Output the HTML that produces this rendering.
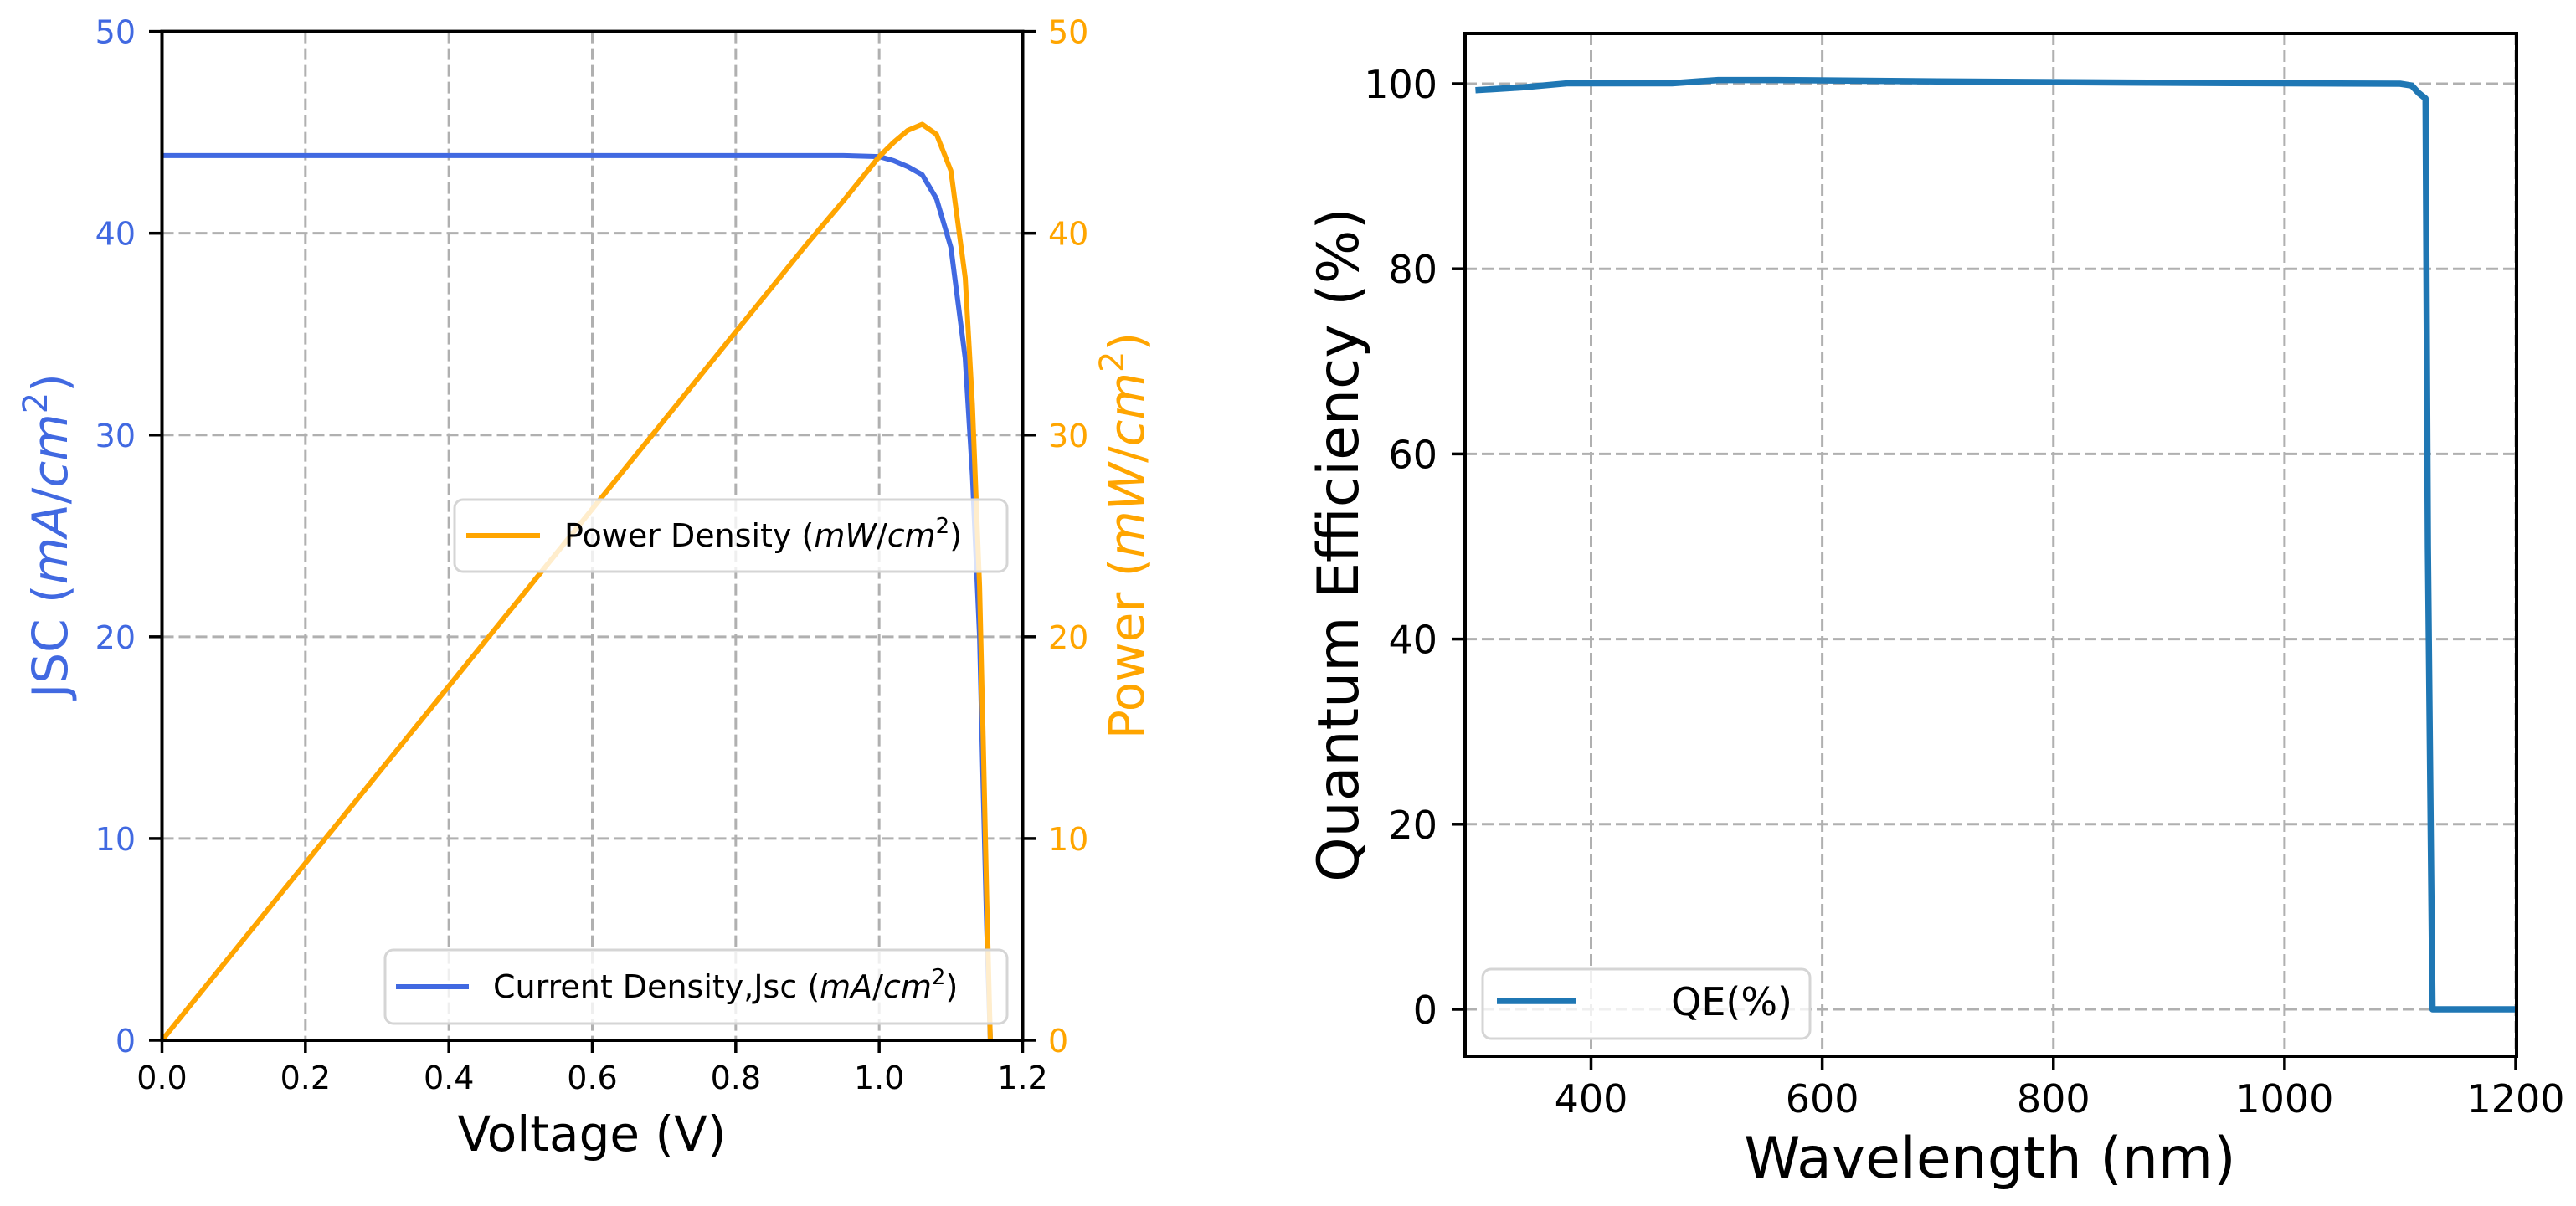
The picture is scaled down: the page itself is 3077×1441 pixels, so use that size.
<!DOCTYPE html>
<html><head><meta charset="utf-8"><style>
html,body{margin:0;padding:0;background:#fff;}
svg{display:block;font-family:"DejaVu Sans","Liberation Sans",sans-serif;}
</style></head><body>
<svg id="fig" width="3077" height="1441" viewBox="0 0 3077 1441" xmlns="http://www.w3.org/2000/svg">
<rect width="3077" height="1441" fill="#fff"/>
<g id="left"></g>
<g id="right"></g>
</svg>
<script>
// ---- JV chart data ----
const voltages = [0, 0.9, 0.95, 1.0, 1.02, 1.04, 1.06, 1.08, 1.10, 1.12, 1.13, 1.14, 1.145, 1.15, 1.155];
const currentDensity = [43.85, 43.85, 43.85, 43.8, 43.6, 43.3, 42.9, 41.7, 39.3, 33.8, 28.0, 20.0, 12.5, 5.5, 0];
const powerVoltages = [0, 0.9, 0.95, 1.0, 1.02, 1.04, 1.06, 1.08, 1.10, 1.12, 1.13, 1.14, 1.145, 1.15, 1.155];
const powerDensity = [0, 39.5, 41.6, 43.8, 44.5, 45.1, 45.4, 44.9, 43.1, 37.8, 31.5, 22.5, 15.0, 7.0, 0];
const jvXTicks = [0, 0.2, 0.4, 0.6, 0.8, 1.0, 1.2];
const jvXTickLabels = ["0.0","0.2","0.4","0.6","0.8","1.0","1.2"];
const jvYTicks = [0, 10, 20, 30, 40, 50];
// ---- QE chart data ----
const wavelengths = [300, 340, 380, 470, 510, 560, 700, 900, 1100, 1110, 1116, 1122, 1124, 1128, 1140, 1200];
const qeValues = [99.3, 99.6, 100.05, 100.05, 100.4, 100.4, 100.25, 100.1, 100.0, 99.8, 99.0, 98.4, 50, 0, 0, 0];
const qeXTicks = [400, 600, 800, 1000, 1200];
const qeYTicks = [0, 20, 40, 60, 80, 100];

const NS = "http://www.w3.org/2000/svg";
function mk(parent, tag, attrs, text) {
  const e = document.createElementNS(NS, tag);
  for (const k in attrs) e.setAttribute(k, attrs[k]);
  if (text !== undefined) e.textContent = text;
  parent.appendChild(e);
  return e;
}
const GRID = {stroke:"#b0b0b0","stroke-width":3,"stroke-dasharray":"14 6",fill:"none"};

// ===== Left chart =====
const L = document.getElementById("left");
const lx = v => 193.5 + (v - 0) / 1.2 * (1221.5 - 193.5);
const ly = v => 1243 - v / 50 * (1243 - 37.6);
const ly2 = v => 1243 - v / 50 * (1243 - 37.6);
jvXTicks.forEach((t, i) => {
  const g = mk(L, "line", Object.assign({x1:lx(t),x2:lx(t),y1:37.6,y2:1243}, GRID));
  
  
  const tk = mk(L, "line", {x1:lx(t),x2:lx(t),y1:1243,y2:1258,stroke:"#000","stroke-width":3.5});
  
  
  const tl = mk(L, "text", {x:lx(t),y:1301,"font-size":38,"text-anchor":"middle",fill:"#000"}, jvXTickLabels[i]);
  
  
});
jvYTicks.forEach(t => {
  const g = mk(L, "line", Object.assign({x1:193.5,x2:1221.5,y1:ly(t),y2:ly(t)}, GRID));
  
  
  const tk = mk(L, "line", {x1:178,x2:193.5,y1:ly(t),y2:ly(t),stroke:"#000","stroke-width":3.5});
  
  
  const tl = mk(L, "text", {x:162,y:ly(t)+14,"font-size":38,"text-anchor":"end",fill:"#4169e1"}, String(t));
  
  
  const tk2 = mk(L, "line", {x1:1221.5,x2:1237,y1:ly2(t),y2:ly2(t),stroke:"#000","stroke-width":3.5});
  
  
  const tl2 = mk(L, "text", {x:1252,y:ly2(t)+14,"font-size":38,"text-anchor":"start",fill:"#ffa500"}, String(t));
  
  
});
const jp = mk(L, "polyline", {points: voltages.map((v,i)=>lx(v)+","+ly(currentDensity[i])).join(" "), fill:"none", stroke:"#4169e1","stroke-width":6,"stroke-linejoin":"round"});


const pp = mk(L, "polyline", {points: powerVoltages.map((v,i)=>lx(v)+","+ly2(powerDensity[i])).join(" "), fill:"none", stroke:"#ffa500","stroke-width":6,"stroke-linejoin":"round"});


const lframe = mk(L, "rect", {x:193.5,y:37.6,width:1028,height:1205.4,fill:"none",stroke:"#000","stroke-width":4});


</script>
<svg style="position:absolute;left:0;top:0" width="3077" height="1441" xmlns="http://www.w3.org/2000/svg">
  <g>
    <rect x="543" y="597" width="660" height="86" rx="10" fill="#fff" fill-opacity="0.8" stroke="#d5d5d5" stroke-width="3"/>
    <line x1="557" y1="640" x2="645" y2="640" stroke="#ffa500" stroke-width="6"/>
    <text x="674" y="653" font-size="38" font-family="DejaVu Sans, sans-serif">Power Density (<tspan font-style="italic">mW</tspan>/<tspan font-style="italic">cm</tspan><tspan font-size="26" dy="-16">2</tspan><tspan dy="16">)</tspan></text>
  </g>
  <g>
    <rect x="460" y="1135" width="743" height="88" rx="10" fill="#fff" fill-opacity="0.8" stroke="#d5d5d5" stroke-width="3"/>
    <line x1="473" y1="1179" x2="560" y2="1179" stroke="#4169e1" stroke-width="6"/>
    <text x="589" y="1192" font-size="38" font-family="DejaVu Sans, sans-serif">Current Density,Jsc (<tspan font-style="italic">mA</tspan>/<tspan font-style="italic">cm</tspan><tspan font-size="26" dy="-16">2</tspan><tspan dy="16">)</tspan></text>
  </g>
  <text x="707" y="1375" font-size="58" text-anchor="middle" font-family="DejaVu Sans, sans-serif">Voltage (V)</text>
  <text transform="translate(80,640) rotate(-90)" font-size="58" text-anchor="middle" fill="#4169e1" font-family="DejaVu Sans, sans-serif">JSC (<tspan font-style="italic">mA</tspan>/<tspan font-style="italic">cm</tspan><tspan font-size="40" dy="-24">2</tspan><tspan dy="24">)</tspan></text>
  <text transform="translate(1366,640) rotate(-90)" font-size="58" text-anchor="middle" fill="#ffa500" font-family="DejaVu Sans, sans-serif">Power (<tspan font-style="italic">mW</tspan>/<tspan font-style="italic">cm</tspan><tspan font-size="40" dy="-24">2</tspan><tspan dy="24">)</tspan></text>
  <text x="2377" y="1407" font-size="68" text-anchor="middle" font-family="DejaVu Sans, sans-serif">Wavelength (nm)</text>
  <text transform="translate(1622,651) rotate(-90)" font-size="68" text-anchor="middle" font-family="DejaVu Sans, sans-serif">Quantum Efficiency (%)</text>
  <g>
    <rect x="1771" y="1158" width="391" height="83" rx="10" fill="#fff" fill-opacity="0.8" stroke="#d5d5d5" stroke-width="3"/>
    <line x1="1788" y1="1196" x2="1883" y2="1196" stroke="#1f77b4" stroke-width="7.5"/>
    <text x="2141" y="1213" font-size="46" text-anchor="end" font-family="DejaVu Sans, sans-serif">QE(%)</text>
  </g>
</svg>
<script>
// ===== Right chart =====
const R = document.getElementById("right");
const rx = v => 1900.5 + (v - 400) / 800 * (3005 - 1900.5);
const ry = v => 1206 - v * 11.06;
qeXTicks.forEach(t => {
  const g = mk(R, "line", Object.assign({x1:rx(t),x2:rx(t),y1:40,y2:1262}, GRID));
  
  
  const tk = mk(R, "line", {x1:rx(t),x2:rx(t),y1:1262,y2:1278,stroke:"#000","stroke-width":3.5});
  
  
  const tl = mk(R, "text", {x:rx(t),y:1329,"font-size":46,"text-anchor":"middle",fill:"#000"}, String(t));
  
  
});
qeYTicks.forEach(t => {
  const g = mk(R, "line", Object.assign({x1:1750,x2:3006,y1:ry(t),y2:ry(t)}, GRID));
  
  
  const tk = mk(R, "line", {x1:1734,x2:1750,y1:ry(t),y2:ry(t),stroke:"#000","stroke-width":3.5});
  
  
  const tl = mk(R, "text", {x:1717,y:ry(t)+17,"font-size":46,"text-anchor":"end",fill:"#000"}, String(t));
  
  
});
const qp = mk(R, "polyline", {points: wavelengths.map((w,i)=>rx(w)+","+ry(qeValues[i])).join(" "), fill:"none", stroke:"#1f77b4","stroke-width":7.5,"stroke-linejoin":"round"});


const rframe = mk(R, "rect", {x:1750,y:40,width:1256,height:1222,fill:"none",stroke:"#000","stroke-width":4});


</script>
</body></html>
